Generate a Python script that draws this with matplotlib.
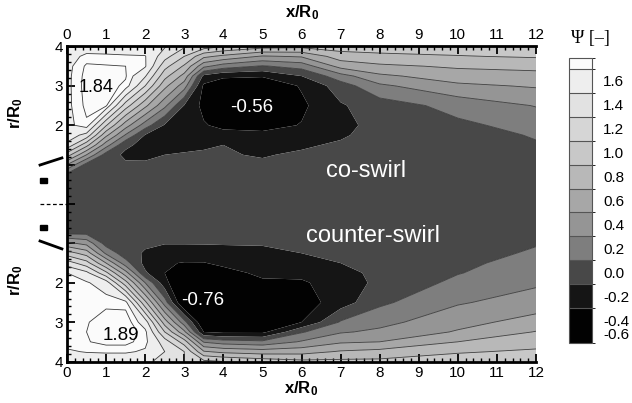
import numpy as np
import matplotlib.pyplot as plt
from matplotlib.colors import ListedColormap, BoundaryNorm
import matplotlib as mpl

plt.rcParams['font.family'] = ['Liberation Sans', 'DejaVu Sans']
plt.rcParams['mathtext.fontset'] = 'custom'
plt.rcParams['mathtext.rm'] = 'Liberation Sans'
plt.rcParams['mathtext.bf'] = 'Liberation Sans:bold'

# grid
x_pos = [0, 0.5, 1, 1.5, 2, 2.5, 3, 3.5, 4, 5, 6, 7, 8, 10, 12]
r_pos = [0, 0.75, 1.0, 1.25, 1.5, 1.75, 2.0, 2.5, 3.0, 3.25, 3.5, 3.75, 4.0]

# stream function, one list per x station (values along r_pos)
psi_co_cols = [
    [0, 0.06, 0.5, 1.0, 1.45, 1.62, 1.65, 1.66, 1.66, 1.66, 1.65, 1.62, 1.55],        # x=0
    [0, 0.0, 0.03, 0.5, 0.97, 1.43, 1.78, 1.83, 1.85, 1.84, 1.82, 1.74, 1.6],        # x=0.5
    [0, -0.01, -0.03, 0.01, 0.39, 0.75, 1.12, 1.82, 1.84, 1.84, 1.81, 1.73, 1.6],    # x=1
    [0, -0.02, -0.07, -0.14, -0.06, 0.28, 0.59, 1.2, 1.78, 1.81, 1.8, 1.72, 1.58],   # x=1.5
    [0, -0.03, -0.08, -0.13, -0.16, -0.11, 0.2, 0.75, 1.3, 1.52, 1.72, 1.71, 1.58],  # x=2
    [0, -0.03, -0.08, -0.1, -0.17, -0.19, -0.12, 0.35, 0.76, 0.97, 1.17, 1.38, 1.52],  # x=2.5
    [0, -0.03, -0.08, -0.09, -0.13, -0.2, -0.24, -0.11, 0.39, 0.63, 0.87, 1.1, 1.33],  # x=3
    [0, -0.03, -0.08, -0.09, -0.11, -0.2, -0.28, -0.36, -0.34, -0.15, 0.35, 0.75, 1.2],  # x=3.5
    [0, -0.03, -0.07, -0.09, -0.1, -0.22, -0.36, -0.52, -0.44, -0.26, 0.2, 0.65, 1.1],  # x=4
    [0, -0.03, -0.08, -0.11, -0.14, -0.25, -0.37, -0.56, -0.47, -0.28, 0.08, 0.48, 0.98],  # x=5
    [0, -0.02, -0.05, -0.08, -0.12, -0.21, -0.29, -0.34, -0.28, -0.1, 0.18, 0.52, 0.95],  # x=6
    [0, -0.01, -0.03, -0.05, -0.08, -0.12, -0.15, -0.12, 0.0, 0.22, 0.57, 0.8, 1.0],  # x=7
    [0, 0.0, -0.01, -0.02, -0.03, -0.04, -0.04, 0.0, 0.26, 0.46, 0.66, 0.85, 1.0],    # x=8
    [0, 0.01, 0.02, 0.03, 0.04, 0.05, 0.06, 0.17, 0.46, 0.6, 0.73, 0.89, 1.0],         # x=10
    [0, 0.03, 0.05, 0.07, 0.09, 0.11, 0.17, 0.31, 0.52, 0.62, 0.77, 0.92, 1.02],       # x=12
]

psi_counter_cols = [
    [0, 0.08, 0.55, 1.0, 1.4, 1.7, 1.73, 1.75, 1.77, 1.77, 1.75, 1.68, 1.58],        # x=0
    [0, 0.07, 0.44, 0.81, 1.18, 1.55, 1.72, 1.75, 1.79, 1.8, 1.79, 1.71, 1.58],      # x=0.5
    [0, 0.0, 0.02, 0.26, 0.7, 1.15, 1.6, 1.77, 1.86, 1.88, 1.84, 1.72, 1.58],        # x=1
    [0, -0.01, -0.03, -0.02, 0.18, 0.58, 0.98, 1.75, 1.88, 1.89, 1.84, 1.72, 1.58],  # x=1.5
    [0, -0.03, -0.07, -0.12, -0.16, -0.07, 0.3, 0.95, 1.6, 1.74, 1.74, 1.68, 1.55],  # x=2
    [0, -0.04, -0.09, -0.2, -0.28, -0.3, -0.22, 0.2, 0.8, 1.1, 1.4, 1.5, 1.42],      # x=2.5
    [0, -0.04, -0.09, -0.2, -0.31, -0.45, -0.6, -0.55, 0.18, 0.55, 1.0, 1.3, 1.3],   # x=3
    [0, -0.04, -0.09, -0.18, -0.31, -0.5, -0.66, -0.76, -0.52, -0.3, 0.28, 0.72, 1.15],  # x=3.5
    [0, -0.04, -0.09, -0.15, -0.25, -0.38, -0.55, -0.72, -0.55, -0.35, 0.2, 0.65, 1.1],  # x=4
    [0, -0.04, -0.09, -0.13, -0.18, -0.25, -0.34, -0.55, -0.5, -0.35, 0.15, 0.6, 1.02],  # x=5
    [0, -0.03, -0.07, -0.1, -0.15, -0.24, -0.33, -0.4, -0.3, 0.08, 0.32, 0.62, 0.95],    # x=6
    [0, -0.02, -0.05, -0.08, -0.1, -0.15, -0.19, -0.2, 0.12, 0.28, 0.47, 0.72, 0.95],    # x=7
    [0, -0.01, -0.03, -0.04, -0.05, -0.06, -0.06, 0.06, 0.24, 0.34, 0.5, 0.76, 0.95],    # x=8
    [0, 0.01, 0.02, 0.04, 0.06, 0.09, 0.15, 0.28, 0.43, 0.52, 0.7, 0.88, 1.0],           # x=10
    [0, 0.06, 0.09, 0.12, 0.17, 0.22, 0.27, 0.39, 0.58, 0.71, 0.82, 0.93, 1.02],         # x=12
]

fill_levels = [-1.0, -0.3, -0.1, 0.1, 0.3, 0.5, 0.7, 0.9, 1.1, 1.3, 1.5, 1.7, 2.0]
band_colors = ['#020202', '#151515', '#484848', '#7e7e7e', '#959595', '#a7a7a7',
               '#b8b8b8', '#c8c8c8', '#d6d6d6', '#e2e2e2', '#eeeeee', '#fbfbfb']
line_levels = [0.1, 0.3, 0.5, 0.7, 0.9, 1.1, 1.3, 1.5, 1.7, 1.8]
cbar_ticks = [1.6, 1.4, 1.2, 1.0, 0.8, 0.6, 0.4, 0.2, 0.0, -0.2, -0.4, -0.6]

psi_co = np.array(psi_co_cols).T
psi_counter = np.array(psi_counter_cols).T
X, R = np.meshgrid(x_pos, r_pos)

fig = plt.figure(figsize=(6.32, 4.03), dpi=100)
ax = fig.add_axes([67/632, 1 - 361.5/403, 469/632, 315/403])

for sign, psi in [(1, psi_co), (-1, psi_counter)]:
    ax.contourf(X, sign * R, psi, levels=fill_levels, colors=band_colors, antialiased=True)
    ax.contour(X, sign * R, psi, levels=line_levels, colors='#3c3c3c', linewidths=0.6)

ax.set_xlim(0, 12)
ax.set_ylim(-4, 4)

ax.set_xticks(range(0, 13))
ax.set_xticks(np.arange(0, 12.01, 0.2), minor=True)
ax.set_yticks(range(-4, 5))
ax.set_yticklabels(['4', '3', '2', '', '', '', '2', '3', '4'])
ax.set_yticks(np.arange(-4, 4.01, 0.2), minor=True)
ax.tick_params(which='both', direction='in', top=True, bottom=True, left=True, right=False,
               labeltop=True, labelbottom=True, labelsize=11, width=1.3, pad=3)
ax.tick_params(which='major', length=6)
ax.tick_params(which='minor', length=3, width=1)
for side in ['top', 'bottom', 'left']:
    ax.spines[side].set_linewidth(2)
ax.spines['right'].set_visible(False)

ax.set_xlabel(r'$\mathbf{x/R_0}$', fontsize=12, labelpad=0)
fig.text(302/632, 1 - 13/403, r'$\mathbf{x/R_0}$', fontsize=12, ha='center', va='center')
fig.text(16/632, 1 - 113/403, r'$\mathbf{r/R_0}$', fontsize=12, rotation=90, ha='center', va='center')
fig.text(16/632, 1 - 280/403, r'$\mathbf{r/R_0}$', fontsize=12, rotation=90, ha='center', va='center')

# annotations
ax.text(0.74, 2.97, '1.84', fontsize=13, ha='center', va='center', color='black')
ax.text(4.73, 2.46, '-0.56', fontsize=13.5, ha='center', va='center', color='white')
ax.text(3.46, -2.44, '-0.76', fontsize=13.5, ha='center', va='center', color='white')
ax.text(1.38, -3.33, '1.89', fontsize=13.5, ha='center', va='center', color='black')
ax.text(7.65, 0.85, 'co-swirl', fontsize=17, ha='center', va='center', color='white')
ax.text(7.83, -0.8, 'counter-swirl', fontsize=17, ha='center', va='center', color='white')

# nozzle sketch left of the axis
kw = dict(color='black', clip_on=False)
ax.plot([-0.69, -0.13], [0.99, 1.17], lw=2, **kw)
ax.plot([-0.69, -0.13], [-0.94, -1.14], lw=2, **kw)
ax.plot([-0.69, 0], [0, 0], lw=0.9, ls=(0, (3, 2)), **kw)
ax.add_patch(plt.Rectangle((-0.69, 0.53), 0.18, 0.12, color='black', clip_on=False))
ax.add_patch(plt.Rectangle((-0.69, -0.65), 0.18, 0.12, color='black', clip_on=False))

# legend bar
cax = fig.add_axes([569/632, 1 - 343/403, 23/632, 285/403])
cb_bounds = [-0.59] + fill_levels[1:-1] + [1.79]
norm = BoundaryNorm(cb_bounds, len(band_colors))
sm = mpl.cm.ScalarMappable(norm=norm, cmap=ListedColormap(band_colors))
cb = fig.colorbar(sm, cax=cax, spacing='proportional', drawedges=True)
cb.outline.set_linewidth(0.8)
cb.outline.set_edgecolor('#555555')
cb.dividers.set_color('#555555')
cb.dividers.set_linewidth(0.8)
tick_pos = [max(v, -0.51) for v in cbar_ticks]
cb.set_ticks(tick_pos)
cb.set_ticklabels(['%.1f' % v for v in cbar_ticks])
cb.ax.tick_params(length=0, labelsize=11, pad=8)
fig.text(590/632, 1 - 38/403, 'Ψ [–]', fontsize=13, ha='center', va='center',
         family=['Liberation Serif', 'DejaVu Serif'])

fig.savefig('out.png', dpi=100)
